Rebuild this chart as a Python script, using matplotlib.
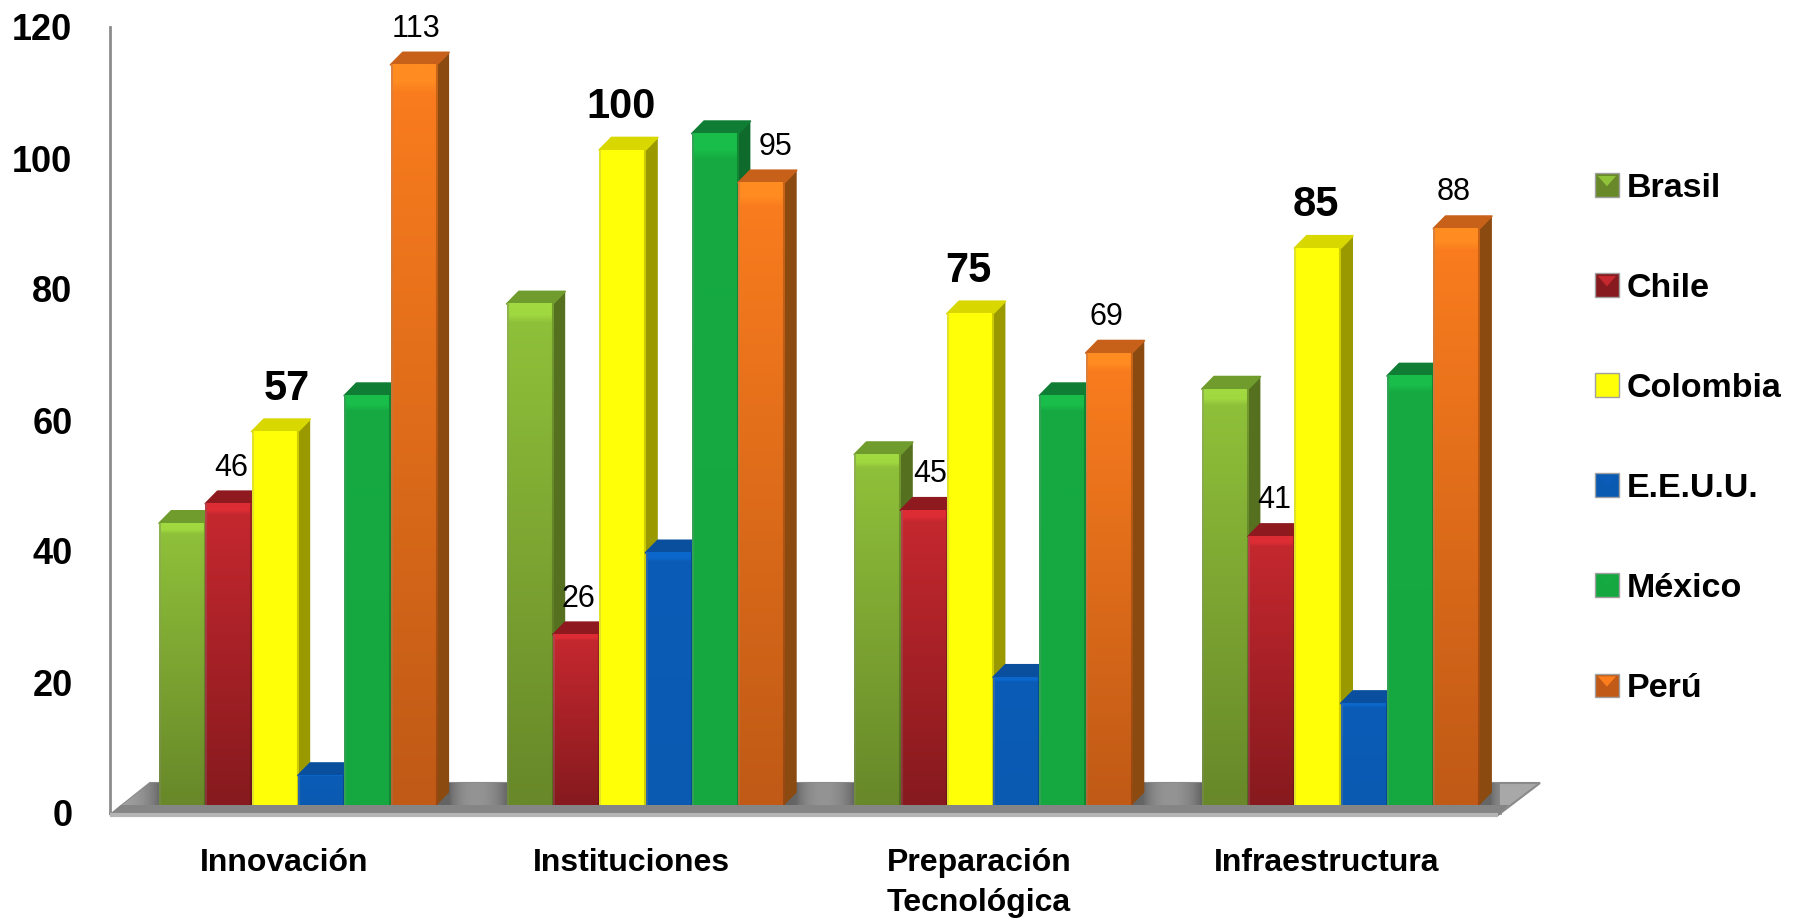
import numpy as np
import matplotlib
matplotlib.use("Agg")
import matplotlib.pyplot as plt
from matplotlib.legend_handler import HandlerBase
from matplotlib.patches import Patch, Polygon, Rectangle

categories = ["Innovación", "Instituciones", "Preparación\nTecnológica", "Infraestructura"]
series_names = ["Brasil", "Chile", "Colombia", "E.E.U.U.", "México", "Perú"]
brasil = [43, 76.5, 53.5, 63.5]
chile = [46, 26, 45, 41]
colombia = [57, 100, 75, 85]
eeuu = [4.5, 38.5, 19.5, 15.5]
mexico = [62.5, 102.5, 62.5, 65.5]
peru = [113, 95, 69, 88]
yticks = [0, 20, 40, 60, 80, 100, 120]

series = [brasil, chile, colombia, eeuu, mexico, peru]
# front top, front bottom, top face, side face
colors = [
    ("#90c23a", "#688829", "#6f9c2c", "#55701f"),
    ("#c6282f", "#861a1e", "#8e1a20", "#6e1418"),
    ("#ffff08", "#ffff08", "#d8d800", "#9a9a00"),
    ("#0a5cb6", "#0a5ab2", "#0a4f9e", "#084a90"),
    ("#16aa42", "#16a840", "#0f7d33", "#0f6b2b"),
    ("#fb7d1e", "#c05a16", "#c7611a", "#8a4a10"),
]
labeled = {"Chile": "normal", "Colombia": "bold", "Perú": "normal"}
# small hand nudges of the value labels, in points: (series, group) -> dx
nudges = {("Colombia", 0): 7, ("Colombia", 1): -3, ("Colombia", 2): -3, ("Colombia", 3): -3,
          ("Chile", 2): 3, ("Perú", 1): 8, ("Perú", 2): -4, ("Perú", 3): -4}

plt.rcParams["font.family"] = ["Liberation Sans"]

W, H = 1793, 923
fig = plt.figure(figsize=(W / 100, H / 100), dpi=100)
ax_l, ax_r, ax_b, ax_t = 110, 1500, 813, 27
ax = fig.add_axes([ax_l / W, 1 - ax_b / H, (ax_r - ax_l) / W, (ax_b - ax_t) / H])

pitch = 347.6
px_y = (ax_b - ax_t) / 120
xmin = (ax_l - 159) / pitch
xmax = (ax_r - 159) / pitch
bar_w = 46.3 / pitch
dx = 12.3 / pitch
dy = 12.5 / px_y
base = 8 / px_y  # bars stand a little behind the axis line


def face(x0, x1, y0, y1, top, bottom, z):
    c0 = np.array(matplotlib.colors.to_rgb(top))
    c1 = np.array(matplotlib.colors.to_rgb(bottom))
    t = np.linspace(0, 1, 64)[:, None, None]
    img = np.repeat(c0[None, None, :] * (1 - t) + c1[None, None, :] * t, 46, axis=1)
    # soft bevel on the edges
    img[:, :2] = img[:, :2] * 0.75 + 0.25 * 0.55
    img[:, -2:] = img[:, -2:] * 0.8
    img[:2, 2:-2] = np.clip(img[:2, 2:-2] * 1.12, 0, 1)
    ax.imshow(img, extent=(x0, x1, y0, y1), aspect="auto", zorder=z,
              interpolation="bilinear", origin="upper")


# floor
back = (150 - 159) / pitch
front_r = (1498 - 159) / pitch
fd = 30 / px_y
floor_pts = [(xmin, -0.3), (back, fd), ((1540 - 159) / pitch, fd), (front_r, -0.3)]
floor = Polygon(floor_pts, closed=True, fc="#a8a8a8", ec="#8a8a8a", lw=1.5, zorder=1, clip_on=False)
ax.add_patch(floor)
xs = np.linspace(xmin, xmax + 0.2, 600)
shade = np.full(xs.shape, 0.66)
for g in range(len(categories)):
    right = g + 6 * bar_w + dx
    shade -= 0.26 * np.exp(-np.maximum(g - xs, 0) / 0.05) * (xs <= right)
    shade = np.where(xs > right, shade - 0.24 * np.exp(-(xs - right) / 0.04), shade)
im = ax.imshow(np.clip(shade, 0.38, 0.75)[None, :], extent=(xmin, xmax + 0.2, -0.3, fd), aspect="auto",
               cmap="gray", vmin=0, vmax=1, zorder=2, clip_on=True)
im.set_clip_path(floor)
frac = base / fd
ax.add_patch(Polygon([(xmin, -0.3), (xmin + (back - xmin) * frac, base),
                      (front_r + 0.12 * frac, base), (front_r, -0.3)],
                     closed=True, fc="#858585", ec="none", zorder=3, clip_on=False))
ax.plot([xmin, front_r], [-0.25, -0.25], color="#b5b5b5", lw=3, zorder=4, clip_on=False,
        solid_capstyle="butt")

# bars, left to right so each one covers the side of the previous
z = 10
for g in range(len(categories)):
    for s, vals in enumerate(series):
        v = vals[g]
        x0 = g + s * bar_w
        x1 = x0 + bar_w
        y0, y1 = base, base + v
        top_c, bot_c, top_face, side_face = colors[s]
        ax.add_patch(Polygon([(x1, y0), (x1 + dx, y0 + dy), (x1 + dx, y1 + dy), (x1, y1)],
                             closed=True, fc=side_face, ec="none", zorder=z))
        ax.add_patch(Polygon([(x0, y1), (x0 + dx, y1 + dy), (x1 + dx, y1 + dy), (x1, y1)],
                             closed=True, fc=top_face, ec=top_face, lw=1.2, joinstyle="round", zorder=z + 1))
        face(x0, x1, y0, y1, top_c, bot_c, z + 2)
        z += 3

for name, weight in labeled.items():
    s = series_names.index(name)
    for g, v in enumerate(series[s]):
        xc = g + (s + 0.5) * bar_w
        off_x = 2 + nudges.get((name, g), 0)
        if weight == "bold":
            off_y, size = 31, 30
        else:
            off_y, size = 26, 22
        ax.annotate(str(v), (xc, base + v), xytext=(off_x, off_y), textcoords="offset points",
                    ha="center", va="center", fontsize=size, fontweight=weight, color="black",
                    zorder=500, annotation_clip=False)

ax.set_xlim(xmin, xmax)
ax.set_ylim(0, 120)
ax.set_xticks([g + 3 * bar_w - 14 / pitch for g in range(len(categories))], categories,
              fontsize=23, fontweight="bold", linespacing=1.45)
ax.set_yticks(yticks, [str(t) for t in yticks], fontsize=26, fontweight="bold")
ax.tick_params(axis="x", length=0, pad=25)
ax.tick_params(axis="y", length=0, pad=27)
for side in ["top", "right"]:
    ax.spines[side].set_visible(False)
for side in ["left", "bottom"]:
    ax.spines[side].set_color("#8c8c8c")
    ax.spines[side].set_linewidth(2)
ax.patch.set_visible(False)


class BevelHandler(HandlerBase):
    def create_artists(self, legend, orig, xd, yd, width, height, fontsize, trans):
        box = Rectangle((-xd, -yd), width, height, fc=orig.get_edgecolor(), ec="#a0a0a0", lw=1, transform=trans)
        tri = Polygon([(-xd + 2, -yd + height - 2), (-xd + width - 2, -yd + height - 2),
                       (-xd + width / 2, -yd + height * 0.45)], closed=True,
                      fc=orig.get_facecolor(), ec="none", transform=trans)
        return [box, tri]


handles = [Patch(fc=colors[i][0], ec=colors[i][1], label=series_names[i]) for i in range(len(series_names))]
leg = fig.legend(handles=handles, loc="upper left", bbox_to_anchor=(1595 / W, 1 - 173 / H),
                 frameon=False, fontsize=24.5, labelspacing=2.03, handlelength=0.7, handleheight=0.7,
                 handletextpad=0.22, borderpad=0, borderaxespad=0,
                 handler_map={Patch: BevelHandler()})
for t in leg.get_texts():
    t.set_fontweight("bold")

fig.savefig("out.png", dpi=100, facecolor="white")
